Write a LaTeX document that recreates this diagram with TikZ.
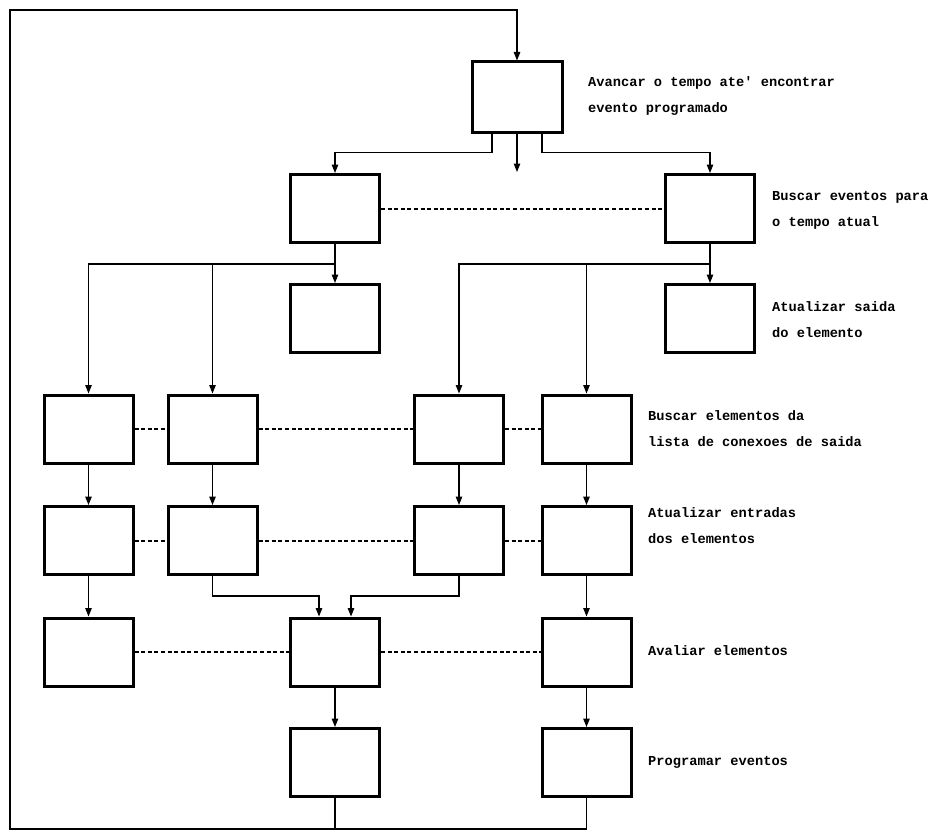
\documentclass[tikz,border=0pt]{standalone}
\usepackage{fontspec}
\setmonofont{Liberation Mono}
\usetikzlibrary{arrows.meta}

\begin{document}
\begin{tikzpicture}[x=1pt,y=-1pt,
  blk/.style={draw, line width=3pt, minimum width=89pt, minimum height=68pt, inner sep=0pt},
  conn/.style={line width=1.2pt, line join=miter},
  arr/.style={conn, -{Triangle[length=8.5pt,width=6.5pt]}},
  link/.style={line width=2pt, dash pattern=on 4pt off 2.6pt},
  lbl/.style={anchor=west, align=left, inner sep=0pt,
    font=\ttfamily\bfseries\fontsize{13.7}{26}\selectfont}]
\useasboundingbox (0,0) rectangle (933,832);

% processing blocks
\node[blk, minimum width=90pt, minimum height=70pt] (t) at (517,97) {};
\node[blk] (b2L) at (335,208.5) {};
\node[blk] (b2R) at (710,208.5) {};
\node[blk] (b3L) at (335,318.5) {};
\node[blk] (b3R) at (710,318.5) {};

\node[blk] (r4a) at (88.5,429) {};
\node[blk] (r4b) at (212.5,429) {};
\node[blk] (r4c) at (459,429) {};
\node[blk] (r4d) at (586.5,429) {};

\node[blk] (r5a) at (88.5,540.5) {};
\node[blk] (r5b) at (212.5,540.5) {};
\node[blk] (r5c) at (459,540.5) {};
\node[blk] (r5d) at (586.5,540.5) {};

\node[blk] (r6a) at (88.5,652) {};
\node[blk] (r6b) at (335,652) {};
\node[blk] (r6c) at (586.5,652) {};

\node[blk] (r7a) at (335,762.5) {};
\node[blk] (r7b) at (586.5,762.5) {};

% descriptions
\node[lbl] (d1) at (588,96) {Avancar o tempo ate' encontrar\\evento programado};
\node[lbl] (d2) at (772,210) {Buscar eventos para\\o tempo atual};
\node[lbl] (d3) at (772,320) {Atualizar saida\\do elemento};
\node[lbl] (d4) at (648,429) {Buscar elementos da\\lista de conexoes de saida};
\node[lbl] (d5) at (648,526) {Atualizar entradas\\dos elementos};
\node[lbl] (d6) at (648,651) {Avaliar elementos};
\node[lbl] (d7) at (648,762) {Programar eventos};

% junction points and free ends
\coordinate (tfree) at (517,172);
\coordinate (j2L) at (335,264);
\coordinate (j2R) at (710,264);
\coordinate (fbl) at (10,829);
\coordinate (fbt) at (10,10);

% feedback loop back to the first block
\draw[conn] (r7a.south) -- (r7a.south |- fbl);
\draw[arr] (r7b.south) |- (fbl) -- (fbt) -| (t.north);

% outputs of the first block
\draw[arr] ([xshift=-25pt]t.south) -- ++(0,19) -| (b2L.north);
\draw[arr] (t.south) -- (tfree);
\draw[arr] ([xshift=25pt]t.south) -- ++(0,19) -| (b2R.north);
\draw[link] (b2L.east) -- (b2R.west);

% fan-out of the event search
\draw[conn] (b2L.south) -- (j2L);
\draw[arr] (j2L) -- (b3L.north);
\draw[arr] (j2L) -| (r4a.north);
\draw[arr] (r4b.north |- j2L) -- (r4b.north);
\draw[conn] (b2R.south) -- (j2R);
\draw[arr] (j2R) -- (b3R.north);
\draw[arr] (j2R) -| (r4c.north);
\draw[arr] (r4d.north |- j2R) -- (r4d.north);

% row links
\draw[link] (r4a.east) -- (r4b.west);
\draw[link] (r4b.east) -- (r4c.west);
\draw[link] (r4c.east) -- (r4d.west);
\draw[link] (r5a.east) -- (r5b.west);
\draw[link] (r5b.east) -- (r5c.west);
\draw[link] (r5c.east) -- (r5d.west);
\draw[link] (r6a.east) -- (r6b.west);
\draw[link] (r6b.east) -- (r6c.west);

% vertical flow
\draw[arr] (r4a.south) -- (r5a.north);
\draw[arr] (r4b.south) -- (r5b.north);
\draw[arr] (r4c.south) -- (r5c.north);
\draw[arr] (r4d.south) -- (r5d.north);
\draw[arr] (r5a.south) -- (r6a.north);
\draw[arr] (r5b.south) -- ++(0,20) -| ([xshift=-16pt]r6b.north);
\draw[arr] (r5c.south) -- ++(0,20) -| ([xshift=16pt]r6b.north);
\draw[arr] (r5d.south) -- (r6c.north);
\draw[arr] (r6b.south) -- (r7a.north);
\draw[arr] (r6c.south) -- (r7b.north);
\end{tikzpicture}
\end{document}
